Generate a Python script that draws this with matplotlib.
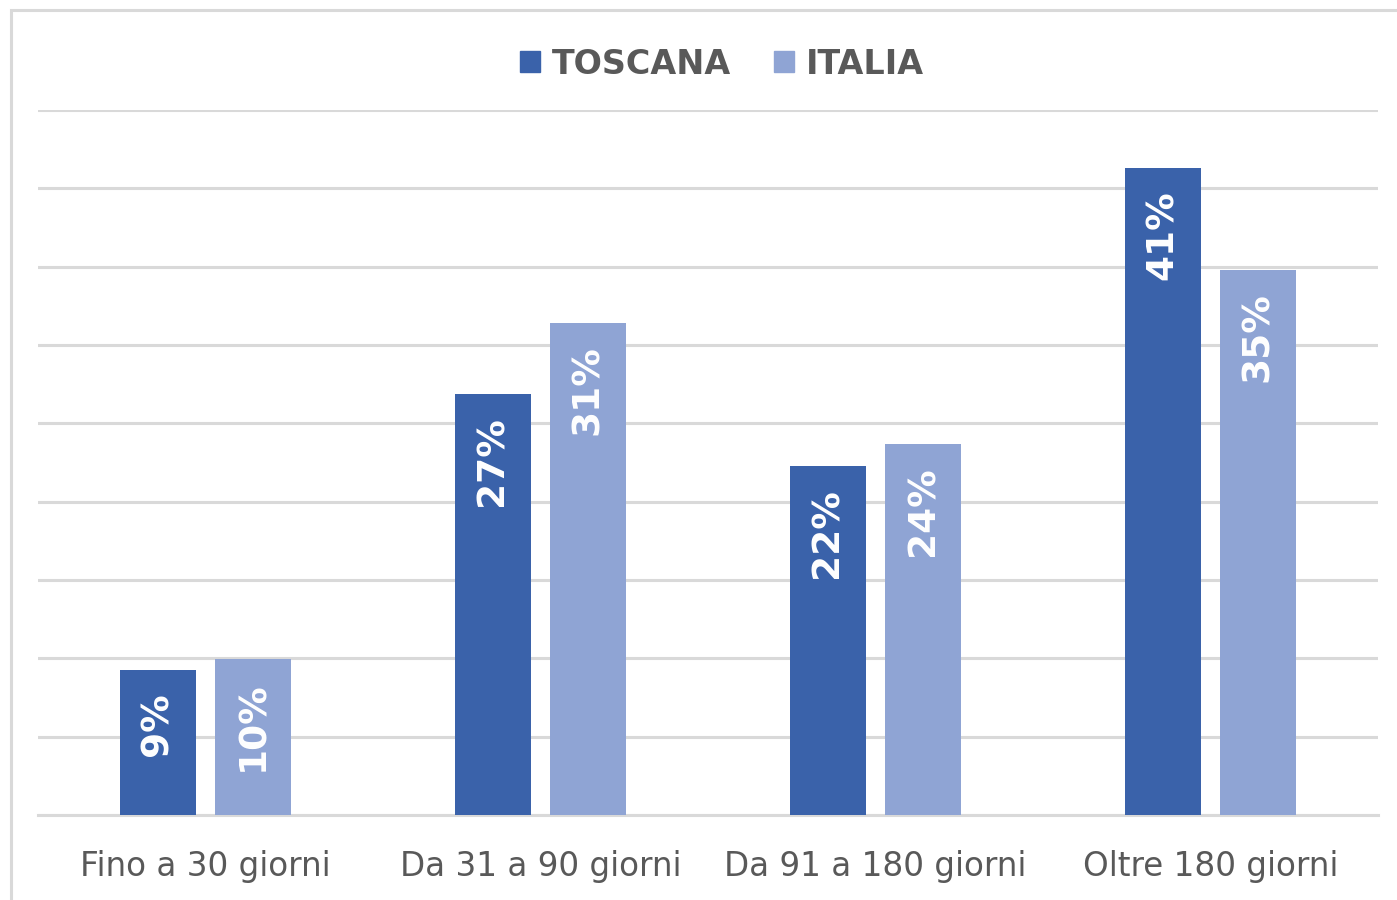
import matplotlib
matplotlib.use("Agg")
import matplotlib.pyplot as plt
from matplotlib.patches import Rectangle
import numpy as np

categories = ["Fino a 30 giorni", "Da 31 a 90 giorni", "Da 91 a 180 giorni", "Oltre 180 giorni"]
series_names = ["TOSCANA", "ITALIA"]
toscana = [9.25, 26.9, 22.3, 41.3]
italia = [9.96, 31.4, 23.7, 34.8]
colors = ["#3A62AA", "#8FA4D4"]
text_color = "#595959"

fig = plt.figure(figsize=(13.97, 9.0), dpi=100)
fig.patch.set_facecolor("white")
fig.patches.append(Rectangle((11/1397, -0.05), 1.1, 1 - 10/900 + 0.05, transform=fig.transFigure,
                             fill=False, edgecolor="#D9D9D9", linewidth=2.2, zorder=0))

ax = fig.add_axes([38/1397, 1 - 815/900, (1378 - 38)/1397, (815 - 110)/900])
x = np.arange(len(categories))
w = 0.225
offs = [-0.142, 0.142]
for vals, off, c in zip([toscana, italia], offs, colors):
    bars = ax.bar(x + off, vals, width=w, color=c, zorder=3)
    for b, v in zip(bars, vals):
        ax.annotate(f"{round(v):d}%", (b.get_x() + b.get_width()/2, v),
                    xytext=(0, -16), textcoords="offset points",
                    rotation=90, ha="center", va="top", color="white",
                    fontsize=27, fontweight="bold", zorder=4)

ax.set_xlim(-0.5, len(categories) - 0.5)
ax.set_ylim(0, 45)
ax.set_yticks(np.arange(0, 46, 5))
ax.yaxis.grid(True, color="#D9D9D9", linewidth=2.2, zorder=0)
ax.set_axisbelow(True)
ax.tick_params(axis="y", left=False, labelleft=False)
ax.set_xticks(x)
ax.set_xticklabels(categories, fontsize=23.5, color=text_color)
ax.tick_params(axis="x", length=0, pad=25)
for s in ["top", "right", "left"]:
    ax.spines[s].set_visible(False)
ax.spines["bottom"].set_color("#D9D9D9")
ax.spines["bottom"].set_linewidth(2.2)
ax.patch.set_alpha(0)

handles = [Rectangle((0, 0), 1, 1, color=c) for c in colors]
leg = fig.legend(handles, series_names, loc="center", bbox_to_anchor=(722/1397, 1 - 64/900),
                 ncol=2, frameon=False, handlelength=0.6, handleheight=0.6,
                 handletextpad=0.35, columnspacing=1.3,
                 prop={"size": 24, "weight": "bold"}, labelcolor=text_color)

fig.savefig("out.png", dpi=100)
